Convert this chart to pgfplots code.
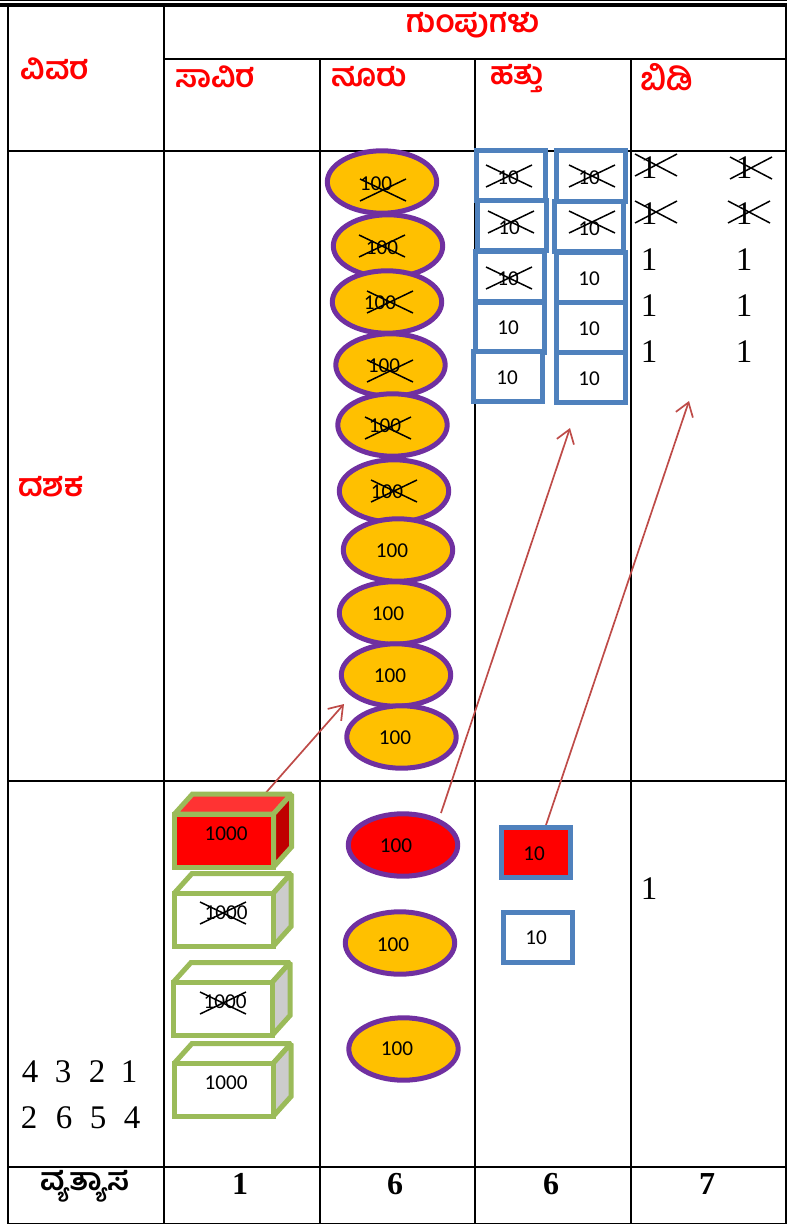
\documentclass[border=0pt]{standalone}
\usepackage{fontspec}
\usepackage{pgfplots}
\pgfplotsset{compat=1.18}
\usetikzlibrary{arrows.meta}
\setmainfont{Liberation Serif}
\newfontfamily\knfont[Script=Kannada]{Hind Mysuru}
\newfontfamily\calfont{Carlito}
\definecolor{gold}{HTML}{FFC000}
\definecolor{purp}{HTML}{7030A0}
\definecolor{blu}{HTML}{4F81BD}
\definecolor{grn}{HTML}{9BBB59}
\definecolor{arr}{HTML}{BE4B48}
\definecolor{lred}{HTML}{FF3333}
\definecolor{dred}{HTML}{C00000}
\definecolor{gry}{HTML}{CCCCCC}
\pgfdeclareplotmark{ell}{\pgfpathellipse{\pgfpointorigin}{\pgfqpoint{54.7pt}{0pt}}{\pgfqpoint{0pt}{31.2pt}}\pgfusepathqfillstroke}
\pgfdeclareplotmark{sq}{\pgfpathrectanglecorners{\pgfqpoint{-34.5pt}{-25pt}}{\pgfqpoint{34.5pt}{25pt}}\pgfusepathqfillstroke}
\pgfdeclareplotmark{crossbig}{\pgfpathmoveto{\pgfqpoint{-23pt}{-11pt}}\pgfpathlineto{\pgfqpoint{23pt}{11pt}}\pgfpathmoveto{\pgfqpoint{-23pt}{11pt}}\pgfpathlineto{\pgfqpoint{23pt}{-11pt}}\pgfusepathqstroke}
\pgfdeclareplotmark{crosssmall}{\pgfpathmoveto{\pgfqpoint{-21pt}{-11pt}}\pgfpathlineto{\pgfqpoint{21pt}{11pt}}\pgfpathmoveto{\pgfqpoint{-21pt}{11pt}}\pgfpathlineto{\pgfqpoint{21pt}{-11pt}}\pgfusepathqstroke}
\newcommand{\cuboid}[3]{%
  \filldraw[fill=#2,draw=grn,line width=5pt,miter limit=1.5] (-49.5pt,26.5pt) -- (-31.5pt,46.5pt) -- (67.5pt,46.5pt) -- (49.5pt,26.5pt) -- cycle;
  \filldraw[fill=#3,draw=grn,line width=5pt,miter limit=1.5] (49.5pt,26.5pt) -- (67.5pt,46.5pt) -- (67.5pt,-6.5pt) -- (49.5pt,-26.5pt) -- cycle;
  \filldraw[fill=#1,draw=grn,line width=5pt,miter limit=1.5] (-49.5pt,-26.5pt) rectangle (49.5pt,26.5pt);
}
\pgfdeclareplotmark{cubered}{\cuboid{red}{lred}{dred}}
\pgfdeclareplotmark{cubewhite}{\cuboid{white}{white}{gry}}
\pgfplotsset{
  tb/.style={black,line width=1.8pt,forget plot,no markers,line cap=rect},
  lab/.style={only marks,mark=none,point meta=explicit symbolic,nodes near coords,
    every node near coord/.style={anchor=center,inner sep=0pt,yshift=-0.8pt,font=#1,text=black}},
  ellstyle/.style={only marks,mark=ell,mark options={draw=purp,fill=#1,line width=5pt,solid}},
  sqstyle/.style={only marks,mark=sq,mark options={draw=blu,fill=#1,line width=5pt,solid}},
  arrow/.style={arr,line width=1.7pt,no markers,-{Straight Barb[length=13pt,width=18pt,line width=1.7pt]}}
}
\newcommand{\numf}{\calfont\fontsize{21.2}{22}\selectfont}
\newcommand{\digf}{\fontsize{33}{34}\selectfont}
\newcommand{\bdigf}{\bfseries\fontsize{32}{33}\selectfont}
\newcommand{\kh}{\knfont\bfseries\fontsize{31.5}{34}\selectfont}
\begin{document}
\begin{tikzpicture}
\useasboundingbox (0,0) rectangle (787pt,1225pt);
\begin{axis}[at={(0,0)},anchor=south west,scale only axis,width=787pt,height=1225pt,
  xmin=0,xmax=787,ymin=0,ymax=1225,y dir=reverse,axis lines=none,clip=false]
% table rules
\addplot[tb,line width=1.4pt,line cap=butt] coordinates {(0,0.8) (787,0.8)};
\addplot[tb,line width=3.4pt,line cap=butt] coordinates {(0,5) (787,5)};
\addplot[tb] coordinates {(164,59) (786,59)};
\addplot[tb] coordinates {(8,151) (786,151)};
\addplot[tb] coordinates {(8,781) (786,781)};
\addplot[tb] coordinates {(8,1167) (786,1167)};
\addplot[tb] coordinates {(8,1223.5) (786,1223.5)};
\addplot[tb] coordinates {(8,6) (8,1223.5)};
\addplot[tb] coordinates {(164,6) (164,1223.5)};
\addplot[tb] coordinates {(320,59) (320,1223.5)};
\addplot[tb] coordinates {(475,59) (475,1223.5)};
\addplot[tb] coordinates {(631,59) (631,1223.5)};
\addplot[tb] coordinates {(786,6) (786,1223.5)};
% hundreds
\addplot[ellstyle=gold] coordinates {(382,182) (388,246) (387,302) (390.5,365) (392.5,425) (394,491) (398,550) (394,613) (396,675) (401.5,737) (400,943) (403.5,1049)};
\addplot[ellstyle=red] coordinates {(403,845)};
% thousands
\addplot[only marks,mark=cubered] coordinates {(224,840.5)};
\addplot[only marks,mark=cubewhite] coordinates {(223.5,920) (222.5,1009) (223.5,1090)};
% tens
\addplot[sqstyle=white] coordinates {(511,175.5) (511.5,225) (509.5,276) (509.5,327) (507.5,376) (590.5,176) (589,226.5) (590.5,277) (590.5,327) (590.5,377.5) (537.5,937)};
\addplot[sqstyle=red] coordinates {(535.5,852.5)};
% labels in the shapes
\addplot[lab=\numf] coordinates {(226,833)[1000] (226,912)[1000] (225,1001)[1000] (226,1082)[1000]
 (376,183)[100] (382,247)[100] (380,302)[100] (384,365)[100] (385,425)[100] (387,491)[100] (392,550)[100] (388,613)[100] (390,675)[100] (395,737)[100] (396,845)[100] (393,943.5)[100] (397,1048)[100]
 (508,177)[10] (509,227)[10] (508,278)[10] (508,327)[10] (507,377)[10] (589,177)[10] (589,228)[10] (589,278)[10] (589,328)[10] (589,378)[10] (534,853)[10] (536,937)[10]};
% ones and digits
\addplot[lab=\digf] coordinates {(649,167)[1] (649,213)[1] (649,259)[1] (649,305)[1] (649,351)[1]
 (744,167)[1] (744,213)[1] (744,259)[1] (744,305)[1] (744,351)[1] (649,888)[1]
 (30,1071)[4] (63,1071)[3] (97,1071)[2] (129,1071)[1] (29,1117)[2] (64,1117)[6] (98,1117)[5] (132,1117)[4]};
\addplot[lab=\bdigf] coordinates {(240,1183)[1] (395,1183)[6] (551,1183)[6] (707,1183)[7]};
% crossings out
\addplot[only marks,mark=crossbig,mark options={draw=black,line width=1.5pt,solid}] coordinates {
 (223,913) (223,1003) (383,190) (382,246) (390,302) (390,371) (388,428) (394,491)
 (509,176) (511,222) (509,278) (592,176) (592,222)};
\addplot[only marks,mark=crosssmall,mark options={draw=black,line width=1.5pt,solid}] coordinates {(656,165) (751,168) (656,212) (749,212)};
% arrows
\addplot[arrow] coordinates {(263,796) (344,704)};
\addplot[arrow] coordinates {(441,813) (570,428)};
\addplot[arrow] coordinates {(546,825) (689,401)};
% Kannada headings
\node[text=red,font=\kh,inner sep=0pt] at (axis cs:473,25) {ಗುಂಪುಗಳು};
\node[text=red,font=\kh,inner sep=0pt] at (axis cs:55,69) {ವಿವರ};
\node[text=red,font=\kh,inner sep=0pt] at (axis cs:215,77) {ಸಾವಿರ};
\node[text=red,font=\kh,inner sep=0pt] at (axis cs:369,77) {ನೂರು};
\node[text=red,font=\kh,inner sep=0pt] at (axis cs:517,79) {ಹತ್ತು};
\node[text=red,font=\kh,inner sep=0pt] at (axis cs:667,77) {ಬಿಡಿ};
\node[text=red,font=\kh,inner sep=0pt] at (axis cs:51,487) {ದಶಕ};
\node[text=black,font=\kh,inner sep=0pt] at (axis cs:85,1186) {ವ್ಯತ್ಯಾಸ};
\end{axis}
\end{tikzpicture}
\end{document}
